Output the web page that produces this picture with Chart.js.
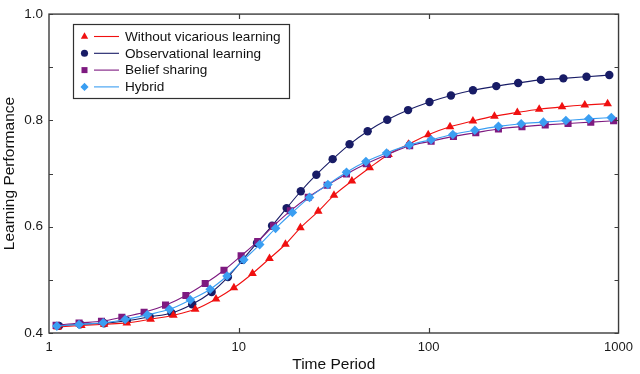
<!DOCTYPE html>
<html>
<head>
<meta charset="utf-8">
<script src="https://cdn.jsdelivr.net/npm/chart.js@4.4.1/dist/chart.umd.min.js"></script>
<style>
  html, body { margin: 0; padding: 0; background: #fff; }
</style>
</head>
<body>
<canvas id="learningChart" width="640" height="374"></canvas>
<script>
// series names, in legend order
const seriesNames = ['Without vicarious learning', 'Observational learning', 'Belief sharing', 'Hybrid']

// markers sit at different time periods per series, so each series has its own x list
const withoutTime = [1.11, 1.48, 1.95, 2.57, 3.43, 4.52, 5.89, 7.58, 9.42, 11.8, 14.5, 17.6, 21.1, 26.2, 31.7, 39.4, 48.9, 61.4, 78.2, 99.4, 129.5, 171, 222, 293, 382, 504, 664, 876]
const withoutPerf = [0.4115, 0.414, 0.4165, 0.419, 0.426, 0.4335, 0.4445, 0.464, 0.485, 0.512, 0.540, 0.567, 0.598, 0.629, 0.659, 0.686, 0.711, 0.736, 0.755, 0.773, 0.788, 0.799, 0.808, 0.815, 0.821, 0.8255, 0.829, 0.8315]

const observTime = [1.13, 1.46, 1.95, 2.57, 3.39, 4.42, 5.68, 7.19, 8.76, 10.45, 12.46, 14.96, 17.85, 21.2, 25.6, 31.2, 38.3, 47.7, 60.5, 77.9, 101, 131, 171, 227, 296, 390, 512, 678, 894]
const observPerf = [0.4134, 0.4165, 0.4183, 0.4231, 0.4304, 0.4377, 0.4542, 0.4771, 0.5053, 0.5375, 0.5694, 0.602, 0.635, 0.6667, 0.6978, 0.7271, 0.755, 0.7797, 0.8011, 0.8194, 0.8346, 0.8469, 0.8566, 0.8645, 0.8705, 0.8762, 0.8791, 0.8822, 0.8853]

const beliefTime = [1.09, 1.44, 1.89, 2.42, 3.17, 4.11, 5.26, 6.65, 8.35, 10.28, 12.57, 15.23, 18.68, 23.2, 29.2, 36.9, 46.9, 60.7, 79.4, 103, 135, 177, 233, 310, 411, 542, 714, 942]
const beliefPerf = [0.4143, 0.4189, 0.422, 0.4295, 0.439, 0.4524, 0.4707, 0.493, 0.5181, 0.5452, 0.5723, 0.6015, 0.6299, 0.6555, 0.678, 0.6991, 0.7183, 0.7357, 0.7522, 0.7608, 0.770, 0.7769, 0.7839, 0.7883, 0.7916, 0.7943, 0.7967, 0.7993]

const hybridTime = [1.10, 1.44, 1.93, 2.52, 3.29, 4.31, 5.55, 7.06, 8.66, 10.62, 12.88, 15.61, 19.14, 23.57, 29.44, 36.9, 46.7, 60.0, 79.1, 103, 134, 175, 233, 307, 402, 528, 697, 916]
const hybridPerf = [0.413, 0.4161, 0.4192, 0.4253, 0.4341, 0.4445, 0.4623, 0.4824, 0.5073, 0.5379, 0.5663, 0.5969, 0.6267, 0.6551, 0.6793, 0.7024, 0.7225, 0.7388, 0.754, 0.7637, 0.7736, 0.7815, 0.7888, 0.7938, 0.7967, 0.7998, 0.8029, 0.8053]

// axis ticks
const xTicks = [1, 10, 100, 1000]
const yTicks = [0.4, 0.6, 0.8, 1.0]
const yMinorTicks = [0.5, 0.7, 0.9]

const seriesColors = ['#f01010', '#181c66', '#7e1a80', '#3a9ef2']
const seriesShapes = ['triangle', 'circle', 'rect', 'rectRot']
const seriesRadius = [5, 4.2, 5, 4.8]

const toPoints = (times, values) => times.map((t, i) => ({ x: t, y: values[i] }))

const seriesData = [
  toPoints(withoutTime, withoutPerf),
  toPoints(observTime, observPerf),
  toPoints(beliefTime, beliefPerf),
  toPoints(hybridTime, hybridPerf)
]

// draw order: lower "order" ends up on top
const drawOrder = [2, 3, 1, 0]

const datasets = seriesNames.map((name, i) => ({
  label: name,
  data: seriesData[i],
  borderColor: seriesColors[i],
  backgroundColor: seriesColors[i],
  borderWidth: 1.1,
  pointStyle: seriesShapes[i],
  pointRadius: seriesRadius[i],
  pointBorderWidth: 0,
  pointHoverRadius: seriesRadius[i],
  cubicInterpolationMode: 'monotone',
  order: drawOrder[i]
}))

const frameAndLegend = {
  id: 'frameAndLegend',
  afterDraw(chart) {
    const ctx = chart.ctx
    const area = chart.chartArea
    const xScale = chart.scales.x
    const yScale = chart.scales.y

    ctx.save()
    ctx.strokeStyle = '#3c3c3c'
    ctx.lineWidth = 1.4
    ctx.strokeRect(area.left, area.top, area.right - area.left, area.bottom - area.top)

    // inward tick marks on all four sides
    ctx.lineWidth = 1.2
    ctx.beginPath()
    yTicks.concat(yMinorTicks).forEach(v => {
      const py = Math.round(yScale.getPixelForValue(v)) + 0.5
      ctx.moveTo(area.left, py)
      ctx.lineTo(area.left + 4, py)
      ctx.moveTo(area.right, py)
      ctx.lineTo(area.right - 4, py)
    })
    xTicks.slice(1, -1).forEach(v => {
      const px = Math.round(xScale.getPixelForValue(v)) + 0.5
      ctx.moveTo(px, area.bottom)
      ctx.lineTo(px, area.bottom - 5)
      ctx.moveTo(px, area.top)
      ctx.lineTo(px, area.top + 5)
    })
    ctx.stroke()

    // legend box
    const box = { left: 73.5, top: 24.5, width: 216, height: 74 }
    ctx.fillStyle = '#ffffff'
    ctx.fillRect(box.left, box.top, box.width, box.height)
    ctx.strokeStyle = '#303030'
    ctx.lineWidth = 1.2
    ctx.strokeRect(box.left, box.top, box.width, box.height)

    ctx.font = '13.6px "Liberation Sans", Arial, sans-serif'
    ctx.textBaseline = 'middle'
    seriesNames.forEach((name, i) => {
      const rowY = 36.5 + i * 16.8
      ctx.strokeStyle = seriesColors[i]
      ctx.lineWidth = 1.1
      ctx.beginPath()
      ctx.moveTo(94, rowY)
      ctx.lineTo(119, rowY)
      ctx.stroke()
      ctx.fillStyle = seriesColors[i]
      ctx.strokeStyle = seriesColors[i]
      Chart.helpers.drawPoint(ctx, {
        pointStyle: seriesShapes[i],
        radius: seriesRadius[i] * 0.85,
        borderWidth: 0,
        rotation: 0
      }, 84.5, rowY)
      ctx.fillStyle = '#111111'
      ctx.fillText(name, 125, rowY + 0.5)
    })
    ctx.restore()
  }
}

new Chart(document.getElementById('learningChart'), {
  type: 'line',
  data: { datasets: datasets },
  options: {
    responsive: false,
    animation: false,
    events: [],
    layout: { padding: { top: 6, right: 16, left: 0, bottom: 0 } },
    plugins: {
      legend: { display: false },
      tooltip: { enabled: false }
    },
    scales: {
      x: {
        type: 'logarithmic',
        min: 1,
        max: 1000,
        grid: { display: false, drawTicks: false },
        border: { display: false },
        afterBuildTicks: (scale) => {
          scale.ticks = xTicks.map(v => ({ value: v, major: true }))
        },
        afterFit: (scale) => { scale.height = 41 },
        ticks: {
          autoSkip: false,
          maxRotation: 0,
          padding: 7,
          color: '#1a1a1a',
          font: { family: '"Liberation Sans", Arial, sans-serif', size: 13 },
          callback: (value) => String(value)
        },
        title: {
          display: true,
          text: 'Time Period',
          color: '#111111',
          padding: { top: 0, bottom: 0 },
          font: { family: '"Liberation Sans", Arial, sans-serif', size: 15.5 }
        }
      },
      y: {
        min: 0.4,
        max: 1.0,
        grid: { display: false, drawTicks: false },
        border: { display: false },
        afterBuildTicks: (scale) => {
          scale.ticks = yTicks.map(v => ({ value: v }))
        },
        afterFit: (scale) => { scale.width = 49 },
        ticks: {
          padding: 6,
          color: '#1a1a1a',
          font: { family: '"Liberation Sans", Arial, sans-serif', size: 13.5 },
          callback: (value) => Number(value).toFixed(1)
        },
        title: {
          display: true,
          text: 'Learning Performance',
          color: '#111111',
          padding: { top: 0, bottom: 0 },
          font: { family: '"Liberation Sans", Arial, sans-serif', size: 15.5 }
        }
      }
    }
  },
  plugins: [frameAndLegend]
})
</script>
</body>
</html>
